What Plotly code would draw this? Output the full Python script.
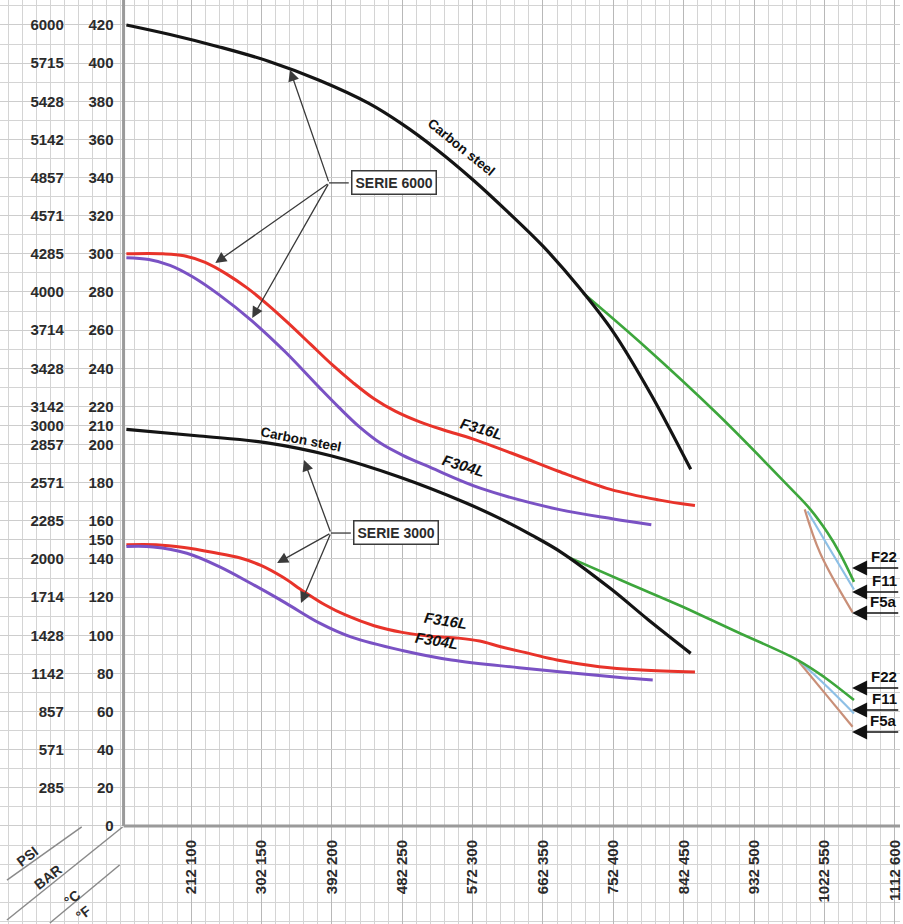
import plotly.graph_objects as go

# ---------------- data (temperature °C, pressure bar) ----------------
T_CS_6000 = [54, 85, 120, 155, 191, 226, 250, 274, 300, 325, 350, 375, 400, 427, 455]
P_CS_6000 = [420, 415, 408.5, 401, 391, 379, 368, 355, 339, 322, 304, 283, 259, 226, 187]

T_316_6000 = [54, 80, 95, 110, 125, 140, 155, 170, 185, 200, 215, 230, 245, 262, 280,
              300, 333, 361, 398, 432, 458]
P_316_6000 = [300, 300, 299, 295.5, 289.5, 282, 273, 263, 252.5, 242, 232.5, 224, 217.5,
              212, 207.5, 203, 194, 186, 176.5, 171, 168]

T_304_6000 = [54, 70, 85, 101, 120, 143, 167, 191, 205, 220, 235, 250, 270, 306, 361, 400, 427]
P_304_6000 = [298, 297, 294, 288, 278.5, 265, 248.5, 230, 219.5, 209, 200.5, 194.5, 188,
              177, 166, 161, 158]

T_CS_3000 = [54, 106, 153, 200, 248, 295, 320, 342, 363, 398, 425, 455]
P_CS_3000 = [208, 204.5, 201, 194, 183, 169.5, 161, 152.5, 143.5, 124.5, 108, 90.5]

T_316_3000 = [54, 75, 95, 115, 135, 150, 165, 180, 195, 210, 230, 250, 270, 290, 305,
              320, 340, 360, 390, 420, 458]
P_316_3000 = [147.5, 147.5, 146, 143.5, 140.5, 136.5, 130.5, 123, 116, 110.5, 105, 101.5,
              99.5, 98.5, 97, 94, 90.5, 87, 83.5, 81.8, 80.8]

T_304_3000 = [54, 73, 97, 120, 143, 167, 191, 214, 250, 285, 333, 403, 428]
P_304_3000 = [146.5, 146.3, 143, 136, 127, 117, 106.5, 99, 92, 87, 83, 78, 76.6]

T_F22_6000 = [378.5, 420, 474, 526, 540, 552, 561, 571]
P_F22_6000 = [279.5, 253, 216, 177, 166, 154, 143, 128]
T_F11_6000 = [538, 554, 571]
P_F11_6000 = [165, 145, 124]
T_F5A_6000 = [536, 547, 570]
P_F5A_6000 = [166, 143, 112]

T_F22_3000 = [368, 410, 446, 488, 531, 550, 571]
P_F22_3000 = [141, 127.4, 116, 101.7, 87, 78, 66]
T_F11_3000 = [533, 552, 571]
P_F11_3000 = [86, 73, 59]
T_F5A_3000 = [532, 551, 570]
P_F5A_3000 = [86, 69, 52]

# axis ticks
C_TICKS = [100, 150, 200, 250, 300, 350, 400, 450, 500, 550, 600]
F_TICKS = [212, 302, 392, 482, 572, 662, 752, 842, 932, 1022, 1112]
BAR_TICKS = [0, 20, 40, 60, 80, 100, 120, 140, 150, 160, 180, 200, 210, 220, 240,
             260, 280, 300, 320, 340, 360, 380, 400, 420]
PSI_AT_BAR = [20, 40, 60, 80, 100, 120, 140, 160, 180, 200, 210, 220, 240, 260,
              280, 300, 320, 340, 360, 380, 400, 420]
PSI_TICKS = ["285", "571", "857", "1142", "1428", "1714", "2000", "2285", "2571",
             "2857", "3000", "3142", "3428", "3714", "4000", "4285", "4571", "4857",
             "5142", "5428", "5715", "6000"]

# ---------------- styling ----------------
FONT = "Liberation Sans, Arial, sans-serif"
BLACK = "#141414"
RED = "#e8332a"
PURPLE = "#7a52c4"
GREEN = "#3da63c"
BLUE = "#8ec0e6"
BROWN = "#c98f78"

X_RANGE = [-35.8, 603.7]
Y_RANGE = [-51.4, 433.1]
X_AXIS_POS = 52      # °C where the vertical axis line sits
TEXT_COLOR = "#2b2b2b"
TICK_SIZE = 15

fig = go.Figure()


def add_line(t, p, color, width=3.0, yaxis="y"):
    fig.add_trace(go.Scatter(x=t, y=p, mode="lines",
                             line=dict(color=color, width=width, shape="spline", smoothing=1.0),
                             hoverinfo="skip", showlegend=False, yaxis=yaxis))


# dummy trace for the PSI axis
fig.add_trace(go.Scatter(x=[None], y=[None], yaxis="y2", showlegend=False, hoverinfo="skip"))

add_line(T_F5A_6000, P_F5A_6000, BROWN, 2.2)
add_line(T_F11_6000, P_F11_6000, BLUE, 2.2)
add_line(T_F5A_3000, P_F5A_3000, BROWN, 2.2)
add_line(T_F11_3000, P_F11_3000, BLUE, 2.2)
add_line(T_F22_6000, P_F22_6000, GREEN, 2.6)
add_line(T_F22_3000, P_F22_3000, GREEN, 2.6)
add_line(T_CS_6000, P_CS_6000, BLACK, 3.2)
add_line(T_316_6000, P_316_6000, RED, 3.0)
add_line(T_304_6000, P_304_6000, PURPLE, 3.0)
add_line(T_CS_3000, P_CS_3000, BLACK, 3.2)
add_line(T_316_3000, P_316_3000, RED, 3.0)
add_line(T_304_3000, P_304_3000, PURPLE, 3.0)

# ---------------- annotations ----------------
ann = []


def label(x, y, text, angle, size, italic=False):
    t = f"<b>{text}</b>"
    if italic:
        t = f"<i>{t}</i>"
    ann.append(dict(x=x, y=y, xref="x", yref="y", text=t, showarrow=False,
                    textangle=angle, font=dict(family=FONT, size=size, color="#111")))


label(292, 355.5, "Carbon steel", 39, 13.5)
label(178, 202.6, "Carbon steel", 11, 13.5)
label(306, 208.5, "F316L", 16, 15, italic=True)
label(293.5, 189, "F304L", 17, 15, italic=True)
label(281, 107.5, "F316L", 9, 15, italic=True)
label(274.5, 97, "F304L", 9, 15, italic=True)

# SERIE boxes with pointer arrows
SERIES_BOX = {
    "SERIE 6000": dict(box=(244, 337.2), joint=(198, 337.2), left=212,
                       tips=[(170.3, 396.4), (117.2, 295.2), (143.4, 266.4)]),
    "SERIE 3000": dict(box=(245.3, 153.8), joint=(199.3, 153.6), left=213.5,
                       tips=[(180.2, 191.9), (161.1, 137.9), (178.1, 116.9)]),
}
shapes = []
for name, d in SERIES_BOX.items():
    ann.append(dict(x=d["box"][0], y=d["box"][1], xref="x", yref="y",
                    text=f"<b>{name}</b>", showarrow=False, bgcolor="white",
                    bordercolor="#3a3a3a", borderwidth=1.5, borderpad=3,
                    font=dict(family=FONT, size=14, color=TEXT_COLOR)))
    shapes.append(dict(type="line", xref="x", yref="y", x0=d["joint"][0], y0=d["joint"][1],
                       x1=d["left"], y1=d["joint"][1], line=dict(color="#3a3a3a", width=1.3)))
    for tx, ty in d["tips"]:
        ann.append(dict(x=tx, y=ty, xref="x", yref="y", ax=d["joint"][0], ay=d["joint"][1],
                        axref="x", ayref="y", text="", showarrow=True, arrowhead=2,
                        arrowsize=1.7, arrowwidth=1.3, arrowcolor="#3a3a3a"))

# F22 / F11 / F5a tags
TAGS = [("F22", 135.3), ("F11", 122.7), ("F5a", 111.7),
        ("F22", 72.4), ("F11", 60.8), ("F5a", 49.3)]
for name, yv in TAGS:
    ann.append(dict(x=569.7, y=yv, xref="x", yref="y", ax=603.5, ay=yv, axref="x", ayref="y",
                    text="", showarrow=True, arrowhead=2, arrowsize=2.0, arrowwidth=1.5,
                    arrowcolor="#111"))
    ann.append(dict(x=603.0, y=yv + 0.4, xref="x", yref="y", text=f"<b>{name}</b>",
                    showarrow=False, xanchor="right", yanchor="bottom",
                    font=dict(family=FONT, size=15, color="#111")))

# corner axis captions
for txt, xp, yp in [("PSI", 0.031, 0.0735), ("BAR", 0.0535, 0.0505),
                    ("°C", 0.0800, 0.0285), ("°F", 0.0925, 0.0122)]:
    ann.append(dict(x=xp, y=yp, xref="paper", yref="paper", text=f"<b>{txt}</b>",
                    showarrow=False, textangle=-38, xanchor="center", yanchor="middle",
                    font=dict(family=FONT, size=14, color=TEXT_COLOR)))

for x0, y0, x1, y1 in [(0.0908, 0.1050, 0.0077, 0.0476),
                       (0.1362, 0.1050, 0.0077, 0.0043),
                       (0.1329, 0.0639, 0.0554, 0.0011)]:
    shapes.append(dict(type="line", xref="paper", yref="paper", x0=x0, y0=y0, x1=x1, y1=y1,
                       line=dict(color="#8a8a8a", width=1.5)))

# main axis lines
shapes.append(dict(type="line", xref="x", yref="y", x0=X_AXIS_POS, x1=X_AXIS_POS,
                   y0=0, y1=Y_RANGE[1], line=dict(color="#9a9a9a", width=3), layer="between"))
shapes.append(dict(type="line", xref="x", yref="y", x0=X_AXIS_POS, x1=X_RANGE[1],
                   y0=0, y1=0, line=dict(color="#9a9a9a", width=3), layer="between"))

fig.update_layout(
    width=903, height=924,
    margin=dict(l=0, r=0, t=0, b=0),
    paper_bgcolor="white", plot_bgcolor="white",
    font=dict(family=FONT, color=TEXT_COLOR),
    annotations=ann, shapes=shapes,
    xaxis=dict(range=X_RANGE, domain=[0, 1], anchor="free", position=(51.4 / 484.5),
               tickmode="array", tickvals=C_TICKS,
               ticktext=[f"<b>{f} {c}</b>" for f, c in zip(F_TICKS, C_TICKS)],
               tickangle=-90, ticks="", ticklabelstandoff=10, ticklabeloverflow="allow",
               tickfont=dict(family=FONT, size=TICK_SIZE, color=TEXT_COLOR),
               showgrid=True, gridcolor="#b8b8b8", gridwidth=1.2,
               minor=dict(tick0=0, dtick=10, showgrid=True, gridcolor="#d4d4d4", gridwidth=1),
               zeroline=False, showline=False, fixedrange=True),
    yaxis=dict(range=Y_RANGE, domain=[0, 1], anchor="free", position=(87.8 / 639.5),
               tickmode="array", tickvals=BAR_TICKS,
               ticktext=[f"<b>{v}</b>" for v in BAR_TICKS],
               ticks="", ticklabelstandoff=10,
               tickfont=dict(family=FONT, size=TICK_SIZE, color=TEXT_COLOR),
               showgrid=True, gridcolor="#cdcdcd", gridwidth=1,
               minor=dict(tick0=0, dtick=10, showgrid=True, gridcolor="#d4d4d4", gridwidth=1),
               zeroline=False, showline=False, fixedrange=True),
    yaxis2=dict(range=Y_RANGE, overlaying="y", anchor="free", position=(74 / 903),
                side="left", tickmode="array", tickvals=PSI_AT_BAR,
                ticktext=[f"<b>{v}</b>" for v in PSI_TICKS],
                ticks="", ticklabelstandoff=10,
                tickfont=dict(family=FONT, size=TICK_SIZE, color=TEXT_COLOR),
                showgrid=False, zeroline=False, showline=False, fixedrange=True),
)

fig.write_html("out.html", config={"displayModeBar": False},
               post_script="document.body.style.margin='0px';")
